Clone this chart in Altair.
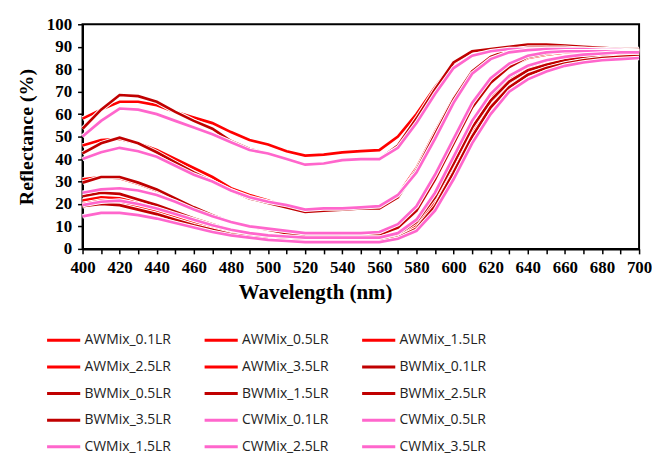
import altair as alt
import pandas as pd

wavelengths = list(range(400, 701, 10))

series_names = [
    "AWMix_0.1LR", "AWMix_0.5LR", "AWMix_1.5LR", "AWMix_2.5LR", "AWMix_3.5LR",
    "BWMix_0.1LR", "BWMix_0.5LR", "BWMix_1.5LR", "BWMix_2.5LR", "BWMix_3.5LR",
    "CWMix_0.1LR", "CWMix_0.5LR", "CWMix_1.5LR", "CWMix_2.5LR", "CWMix_3.5LR",
]
series_colors = [
    "#FF0000", "#FF0000", "#FF0000", "#FF0000", "#FF0000",
    "#C00000", "#C00000", "#C00000", "#C00000", "#C00000",
    "#FF66CC", "#FF66CC", "#FF66CC", "#FF66CC", "#FF66CC",
]

aw_01 = [58, 62, 65.5, 65.5, 64, 61, 58.5, 56, 52, 48.5, 46.5, 43.5, 41.5, 42, 43, 43.5, 44, 50, 60, 72, 82.5, 88, 89, 90, 90.5, 90.5, 90, 89.5, 89, 88.5, 88.5]
aw_05 = [46, 48.5, 49, 47, 44, 40, 36, 32, 27, 24, 21.5, 19, 17, 17.5, 18, 18, 18.5, 24, 36, 52, 67, 79, 85, 88, 89, 89.5, 89.5, 89, 89, 88.5, 88.5]
aw_15 = [31, 32, 31.5, 29, 26, 22.5, 18.5, 15, 12, 10, 8.5, 7.5, 6.5, 6.5, 6.5, 7, 7, 10, 18, 32, 48, 64, 74, 81, 85, 86.5, 87.5, 88, 88, 88, 88]
aw_25 = [21.5, 23, 22.5, 20.5, 18, 15.5, 12.5, 10, 8, 6.5, 5.5, 5, 4.5, 4.5, 4.5, 4.5, 4.5, 6.5, 12, 24, 40, 56, 68, 76, 81, 83.5, 85, 86, 87, 87, 87.5]
aw_35 = [20, 21.5, 21, 19, 17, 14.5, 12, 9.5, 7.5, 6, 5, 4.5, 4, 4, 4, 4, 4, 5.5, 10, 21, 36, 52, 65, 74, 79, 82, 84, 85.5, 86, 86.5, 87]
bw_01 = [53.5, 62, 68.5, 68, 65.5, 61, 57, 53.5, 48, 44.5, 42.5, 40, 37.5, 38, 39.5, 40, 40, 46, 58, 71, 83, 88, 89, 90, 91, 91, 90.5, 90, 89.5, 89, 89]
bw_05 = [42.5, 47, 49.5, 47, 43, 38.5, 34, 30, 26, 22.5, 20.5, 18.5, 16.5, 17, 17.5, 18, 18, 23, 35, 51, 66.5, 79, 85.5, 88.5, 89.5, 89.5, 89.5, 89, 89, 88.5, 88.5]
bw_15 = [29.5, 32, 32, 29.5, 26.5, 22.5, 18.5, 15, 12, 10, 8.5, 7, 6, 6, 6.5, 6.5, 6.5, 9.5, 17, 31, 47, 63, 74, 81, 85.5, 87, 88, 88.5, 88.5, 88.5, 88.5]
bw_25 = [23.5, 25, 24.5, 22, 19.5, 16.5, 13.5, 11, 8.5, 7, 6, 5, 4.5, 4.5, 4.5, 4.5, 4.5, 6.5, 12, 23, 38, 54, 66, 74.5, 79.5, 82, 84, 85.5, 86.5, 87, 87]
bw_35 = [19, 20, 19.5, 17.5, 15.5, 13, 10.5, 8.5, 6.5, 5.5, 4.5, 4, 3.5, 3.5, 3.5, 3.5, 3.5, 5, 9, 19, 34, 50, 63, 72, 77.5, 80.5, 82.5, 84, 85, 85.5, 86]
cw_01 = [50, 57, 62.5, 62, 60, 57, 54, 51, 47.5, 44, 42.5, 40, 37.5, 38, 39.5, 40, 40, 45, 56, 69, 80.5, 86, 88, 89, 89, 89, 89, 89, 88.5, 88.5, 88]
cw_05 = [40, 43, 45, 43.5, 41, 37, 33, 30, 26, 23, 21, 19.5, 17.5, 18, 18, 18.5, 19, 24, 34, 49, 65, 78, 84.5, 87.5, 88.5, 89, 89, 89, 88.5, 88.5, 88]
cw_15 = [25, 26.5, 27, 26, 24, 21, 17.5, 14.5, 12, 10, 9, 8, 7, 7, 7, 7, 7.5, 11, 19, 33, 49, 65, 76, 82.5, 86, 87.5, 88, 88, 88, 88, 88]
cw_25 = [19.5, 21, 21.5, 20, 18, 15.5, 13, 10.5, 8.5, 7, 6, 5.5, 5, 5, 5, 5, 5, 7, 13, 25, 41, 57, 69, 77, 81.5, 84, 85.5, 86.5, 87, 87.5, 87.5]
cw_35 = [14.5, 16, 16, 15, 13.5, 11.5, 9.5, 7.5, 6, 5, 4, 3.5, 3, 3, 3, 3, 3, 4.5, 8, 17, 31, 47, 60, 70, 75.5, 79, 81.5, 83, 84, 84.5, 85]

series_values = [aw_01, aw_05, aw_15, aw_25, aw_35,
                 bw_01, bw_05, bw_15, bw_25, bw_35,
                 cw_01, cw_05, cw_15, cw_25, cw_35]

rows = []
for name, vals in zip(series_names, series_values):
    for w, v in zip(wavelengths, vals):
        rows.append({"series": name, "wavelength": w, "reflectance": v})
df = pd.DataFrame(rows)

x_enc = alt.X(
    "wavelength:Q",
    scale=alt.Scale(domain=[400, 700], nice=False),
    axis=alt.Axis(
        title="Wavelength (nm)",
        values=wavelengths,
        labelExpr="datum.value % 20 == 0 ? datum.label : ''",
        grid=False,
        tickSize=5, tickColor="black", tickWidth=1.5,
        domainColor="black", domainWidth=2,
        labelFont="Liberation Serif", labelFontWeight="bold", labelFontSize=17,
        labelColor="black", labelPadding=6, labelFlush=False,
        titleFont="Liberation Serif", titleFontWeight="bold", titleFontSize=21,
        titleColor="black", titlePadding=6, titleX=234,
    ),
)
y_enc = alt.Y(
    "reflectance:Q",
    scale=alt.Scale(domain=[0, 100], nice=False),
    axis=alt.Axis(
        title="Reflectance (%)",
        values=list(range(0, 101, 10)),
        grid=False,
        tickSize=5, tickColor="black", tickWidth=1.5,
        domainColor="black", domainWidth=2,
        labelFont="Liberation Serif", labelFontWeight="bold", labelFontSize=17,
        labelColor="black", labelPadding=6,
        titleFont="Liberation Serif", titleFontWeight="bold", titleFontSize=20,
        titleColor="black", titlePadding=10,
    ),
)

color_scale = alt.Scale(domain=series_names, range=series_colors)
legend = alt.Legend(
    title=None,
    orient="none",
    direction="horizontal",
    legendX=-32,
    legendY=305,
    columns=3,
    columnPadding=26.5,
    rowPadding=6.8,
    symbolType="M-1.45,0H1.45",
    symbolSize=529,
    symbolStrokeWidth=3,
    labelOffset=8,
    labelFont="Open Sans",
    labelFontSize=14,
    labelColor="#222222",
)

layers = []
for name in series_names:
    base = alt.Chart(df).transform_filter(alt.datum.series == name)
    layers.append(
        base.mark_line(strokeWidth=4.6, color="white").encode(x=x_enc, y=y_enc)
    )
    layers.append(
        base.mark_line(strokeWidth=2.7).encode(
            x=x_enc, y=y_enc,
            color=alt.Color("series:N", scale=color_scale, legend=legend),
        )
    )

chart = alt.layer(*layers).properties(
    width=560,
    height=226,
    autosize=alt.AutoSizeParams(type="none"),
    padding={"left": 75, "top": 15, "right": 13, "bottom": 205},
).configure_view(stroke="black", strokeWidth=2)

chart.save("out.html", embed_options={"renderer": "svg", "actions": False})
